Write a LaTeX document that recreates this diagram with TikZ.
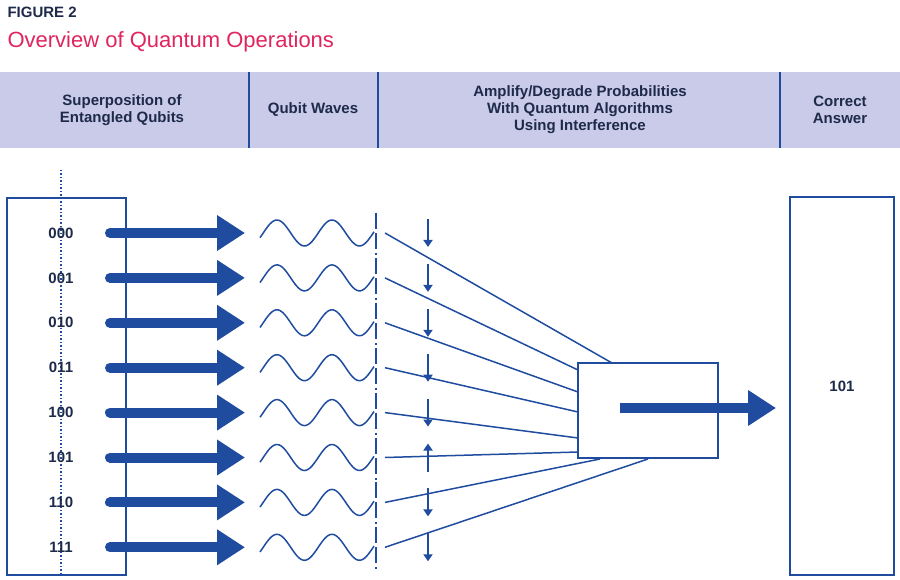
\documentclass[tikz,border=0pt]{standalone}
\usepackage{fontspec}
\setmainfont{Liberation Sans}
\usepackage{tikz}
\usetikzlibrary{arrows.meta}
\definecolor{qblue}{HTML}{1F4C9E}
\definecolor{qband}{HTML}{C9CBE8}
\definecolor{qpink}{HTML}{E0245E}
\definecolor{qdark}{HTML}{1E2A4A}

\begin{document}
\begin{tikzpicture}[x=1pt,y=-1pt,
    head/.style={font=\fontsize{15}{17}\selectfont\bfseries, text=qdark, align=center},
    bits/.style={font=\fontsize{15}{17}\selectfont\bfseries, text=qdark},
    fat/.style={draw=qblue, line width=10pt, line cap=round,
                -{Triangle[length=28pt 0 0, width=34pt 0 0]}},
    wave/.style={draw=qblue, line width=1.5pt},
    ray/.style={draw=qblue, line width=1.5pt},
    nudge/.style={draw=qblue, line width=2.2pt, -{Triangle[length=7pt 0 0, width=9pt 0 0]}}]
    \useasboundingbox (0,0) rectangle (900,580);

    % title
    \node[anchor=west, font=\fontsize{15}{17}\selectfont\bfseries, text=qdark] (fig) at (4,12) {FIGURE 2};
    \node[anchor=west, font=\fontsize{22}{24}\selectfont, text=qpink] (ttl) at (4,42) {Overview of Quantum Operations};

    % header band
    \fill[qband] (0,72) rectangle (900,148);
    \foreach \x in {249,378,780}
        \draw[qblue, line width=1.2pt] (\x,72) -- (\x,148);
    \node[head] (h1) at (122,110) {Superposition of\\Entangled Qubits};
    \node[head] (h2) at (313,110) {Qubit Waves};
    \node[head] (h3) at (580,110) {Amplify/Degrade Probabilities\\With Quantum Algorithms\\Using Interference};
    \node[head] (h4) at (840,110) {Correct\\Answer};

    % boxes
    \node[draw=qblue, line width=1.5pt, minimum width=119pt, minimum height=377pt] (states) at (66.5,386.5) {};
    \node[draw=qblue, line width=1.5pt, minimum width=140pt, minimum height=95pt] (mix) at (648,410.5) {};
    \node[draw=qblue, line width=1.5pt, minimum width=104pt, minimum height=378pt, bits] (answer) at (842,386) {101};
    \draw[qblue, line width=1.5pt, dotted] (61,170) -- (61,575);

    % rows
    \foreach \lab/\ex/\ey/\up [count=\i] in {000/612/363/0, 001/578/370/0, 010/578/392/0, 011/578/412/0,
                                            100/578/438/0, 101/578/452/1, 110/600/459/0, 111/648/459/0} {
        \pgfmathsetmacro{\y}{233+44.9*(\i-1)}
        \node[bits] (b\i) at (61,\y) {\lab};
        \coordinate (s\i) at (110,\y);
        \coordinate (t\i) at (245,\y);
        \coordinate (r\i) at (385,\y);
        \coordinate (e\i) at (\ex,\ey);
        \draw[fat] (s\i) -- (t\i);
        \draw[wave] plot[domain=0:114, samples=60, variable=\t] ({260+\t},{\y-13*sin(6.545*\t-21)});
        \draw[qblue, line width=1.5pt, dash pattern=on 16pt off 4pt] (376,\y-20) -- (376,\y+22);
        \draw[ray] (r\i) -- (e\i);
        \ifnum\up=1
            \draw[nudge] (428,\y+14) -- (428,\y-14);
        \else
            \draw[nudge] (428,\y-14) -- (428,\y+14);
        \fi
    }

    % output
    \coordinate (o1) at (620,408);
    \coordinate (o2) at (776,408);
    \draw[fat, line cap=butt] (o1) -- (o2);
\end{tikzpicture}
\end{document}
